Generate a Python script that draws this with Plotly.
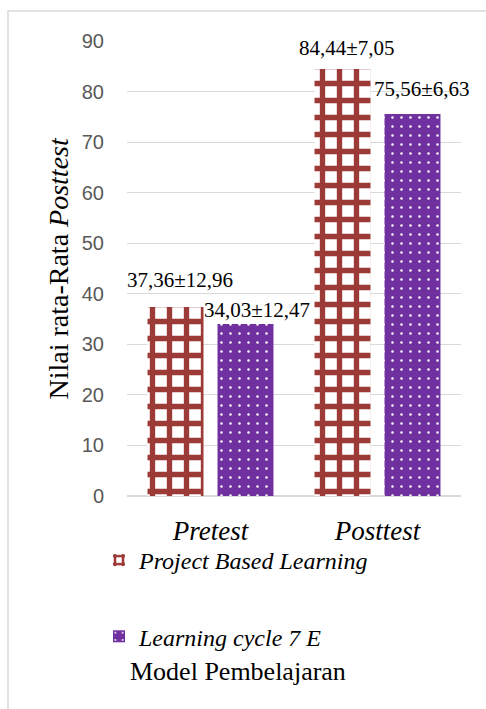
import plotly.graph_objects as go

# Data
categories = ["Pretest", "Posttest"]
pbl_name = "Project Based Learning"
lc_name = "Learning cycle 7 E"
pbl_mean = [37.36, 84.44]
pbl_sd = [12.96, 7.05]
lc_mean = [34.03, 75.56]
lc_sd = [12.47, 6.63]
y_ticks = [0, 10, 20, 30, 40, 50, 60, 70, 80, 90]

# Layout constants
W, H = 486, 709
M_L, M_R, M_T, M_B = 127, 25, 41, 213
PLOT_W = W - M_L - M_R
PLOT_H = H - M_T - M_B
BARGAP = 0.162
BARGROUPGAP = 0.2
RED = "#9B3A36"
PURPLE = "#7030A0"
SERIF = "Liberation Serif, Times New Roman, serif"
SANS = "Liberation Sans, Arial, sans-serif"

# pixel offsets of the value labels (x, y) relative to each bar top centre
pbl_label_shift = [(4, 27), (4, 21)]
lc_label_shift = [(12, 14), (10, 25)]


def px_x(p):
    return (p - M_L) / PLOT_W


def px_y(p):
    return (H - M_B - p) / PLOT_H


def fmt(v):
    return f"{v:.2f}".replace(".", ",")


xs = list(range(len(categories)))

fig = go.Figure()
fig.add_trace(go.Bar(
    x=xs, y=pbl_mean, name=f"<i>{pbl_name}</i>", legendgroup="a",
    marker=dict(color="white", line=dict(width=0),
                pattern=dict(shape="+", fgcolor=RED, bgcolor="white",
                             fgopacity=1, size=17, solidity=0.53,
                             fillmode="overlay")),
))
fig.add_trace(go.Bar(
    x=xs, y=lc_mean, name=f"<i>{lc_name}</i>", legendgroup="b",
    marker=dict(color=PURPLE, line=dict(width=0),
                pattern=dict(shape=".", fgcolor="white", bgcolor=PURPLE,
                             fgopacity=1, size=9, solidity=0.06,
                             fillmode="overlay")),
))

slot = (1 - BARGAP) / 2
annotations = []
for i in xs:
    for mean, sd, shift, off in ((pbl_mean, pbl_sd, pbl_label_shift, -slot / 2),
                                 (lc_mean, lc_sd, lc_label_shift, slot / 2)):
        annotations.append(dict(
            x=i + off, y=mean[i], xref="x", yref="y",
            text=f"{fmt(mean[i])}±{fmt(sd[i])}", showarrow=False,
            xanchor="center", yanchor="middle",
            xshift=shift[i][0], yshift=shift[i][1],
            font=dict(family=SERIF, size=21, color="black"),
        ))

annotations.append(dict(
    x=px_x(58), y=0.5, xref="paper", yref="paper", textangle=-90,
    text="Nilai rata-Rata <i>Posttest</i>", showarrow=False,
    xanchor="center", yanchor="middle",
    font=dict(family=SERIF, size=28, color="black"),
))
annotations.append(dict(
    x=px_x(238), y=px_y(671), xref="paper", yref="paper",
    text="Model Pembelajaran", showarrow=False,
    xanchor="center", yanchor="middle",
    font=dict(family=SERIF, size=26, color="black"),
))

fig.update_layout(
    width=W, height=H,
    margin=dict(l=M_L, r=M_R, t=M_T, b=M_B, autoexpand=False),
    paper_bgcolor="white", plot_bgcolor="white",
    barmode="group", bargap=BARGAP, bargroupgap=BARGROUPGAP,
    showlegend=True,
    legend=dict(
        orientation="v", x=px_x(99), y=px_y(538), xanchor="left", yanchor="top",
        font=dict(family=SERIF, size=24, color="black"),
        tracegroupgap=42, itemwidth=30, bgcolor="rgba(0,0,0,0)",
    ),
    annotations=annotations,
    shapes=[dict(
        type="rect", xref="paper", yref="paper",
        x0=px_x(8), x1=2, y0=-2, y1=px_y(11),
        line=dict(color="#d9d9d9", width=1.5), layer="below",
    )],
)
fig.update_xaxes(
    range=[-0.5, len(categories) - 0.5], tickvals=xs,
    ticktext=[f"<i>{c}</i>" for c in categories],
    tickfont=dict(family=SERIF, size=27, color="black"),
    showgrid=False, zeroline=False, showline=False, ticks="",
    ticklabelstandoff=16,
)
fig.update_yaxes(
    range=[0, 90], tickvals=y_ticks,
    tickfont=dict(family=SANS, size=20, color="#595959"),
    showgrid=True, gridcolor="#d9d9d9", gridwidth=1,
    zeroline=True, zerolinecolor="#d9d9d9", zerolinewidth=1.5,
    showline=False, ticks="", ticklabelstandoff=22,
)

fig.write_html("out.html")
